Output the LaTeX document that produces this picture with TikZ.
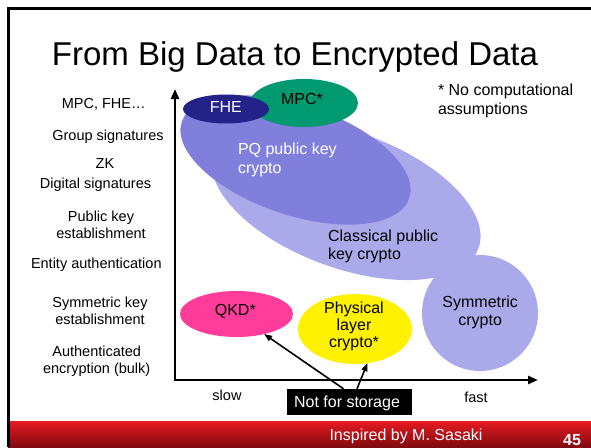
\documentclass[tikz,border=0pt]{standalone}
\usepackage{fontspec}
\setmainfont{Liberation Sans}
\usetikzlibrary{shapes.geometric,arrows.meta}

\definecolor{fhecol}{RGB}{34,34,136}
\definecolor{mpccol}{RGB}{0,153,112}
\definecolor{pqcol}{RGB}{128,128,220}
\definecolor{classcol}{RGB}{170,170,235}
\definecolor{qkdcol}{RGB}{255,60,153}
\definecolor{barlight}{RGB}{232,26,34}
\definecolor{bardark}{RGB}{128,10,16}

\tikzset{
  lbl/.style={inner sep=0pt, outer sep=0pt, align=center,
    font=\fontsize{14.5}{17}\selectfont},
  bigl/.style={inner sep=0pt, outer sep=0pt,
    font=\fontsize{16}{18.5}\selectfont},
  blob/.style={ellipse, inner sep=0pt, outer sep=0pt},
  axis/.style={line width=2.5pt, -{Triangle[length=10pt,width=8pt]}},
  pointer/.style={line width=1.6pt, -{Triangle[length=8pt,width=6pt]}}
}

\begin{document}
\begin{tikzpicture}[x=1pt,y=-1pt]
\useasboundingbox (0,0) rectangle (591,447);
\fill[white] (0,0) rectangle (591,447);

% footer band
\shade[top color=barlight, middle color=barlight!85!bardark, bottom color=bardark]
  (8,421) rectangle (591,447);
\node[bigl, white, anchor=base] (credit) at (406,440.7) {Inspired by M. Sasaki};
\node[bigl, white, anchor=base, font=\fontsize{16}{18}\selectfont\bfseries] (pageno) at (572,445) {45};

% slide frame
\draw[line width=2.5pt] (8.5,447) -- (8.5,8.5) -- (591,8.5);

% title
\node[inner sep=0pt, anchor=base, font=\fontsize{33}{38}\selectfont] (title) at (295,65)
  {From Big Data to Encrypted Data};

% row labels
\node[lbl, anchor=base] (r1) at (103.7,108) {MPC, FHE…};
\node[lbl, anchor=base] (r2) at (108,140) {Group signatures};
\node[lbl, anchor=base] (r3) at (105,168) {ZK};
\node[lbl, anchor=base] (r4) at (95.5,188) {Digital signatures};
\node[lbl] (r5) at (101,225.2) {Public key\\establishment};
\node[lbl, anchor=base] (r6) at (96.3,268) {Entity authentication};
\node[lbl] (r7) at (100,311.2) {Symmetric key\\establishment};
\node[lbl] (r8) at (96.7,360.8) {Authenticated\\encryption (bulk)};

% footnote
\node[bigl, align=left, anchor=west] (note) at (438,101) {* No computational\\assumptions};

% regions
\fill[classcol, rotate around={-20:(346,200)}] (346,200) ellipse [x radius=141, y radius=68];
\node[blob, fill=classcol, minimum width=116pt, minimum height=116pt] (sym) at (480,313) {};
\fill[pqcol, rotate around={-18.6:(295.5,160)}] (295.5,160) ellipse [x radius=120, y radius=55];
\node[blob, fill=mpccol, minimum width=108pt, minimum height=48pt] (mpc) at (304,103) {};
\node[blob, fill=fhecol, minimum width=86pt, minimum height=29pt] (fhe) at (226,109) {};
\node[blob, fill=qkdcol, minimum width=113pt, minimum height=46pt] (qkd) at (236.5,314) {};
\node[blob, fill=yellow, minimum width=114pt, minimum height=70pt] (phys) at (355,329) {};

% region labels
\node[bigl, white, anchor=base] (fhet) at (225.8,112.7) {FHE};
\node[bigl, anchor=base] (mpct) at (302,104.3) {MPC*};
\node[bigl, white, align=left, anchor=west] (pqt) at (238,160) {PQ public key\\crypto};
\node[bigl, align=left, anchor=west] (classt) at (328,246.5) {Classical public\\key crypto};
\node[bigl, align=center] (symt) at (480.2,312.2) {Symmetric\\crypto};
\node[bigl, anchor=base] (qkdt) at (235.3,315) {QKD*};
\node[bigl, align=center, font=\fontsize{16}{17}\selectfont] (physt) at (354,326.2) {Physical\\layer\\crypto*};

% axes
\coordinate (origin) at (175,380);
\coordinate (ytip) at (175,89);
\coordinate (xtip) at (538,380);
\draw[axis] ([yshift=1.25pt]origin) -- (ytip);
\draw[axis] ([xshift=-1.25pt]origin) -- (xtip);

\node[lbl, anchor=base] (slow) at (227,400) {slow};
\node[lbl, anchor=base] (fast) at (476,402.7) {fast};

% storage remark
\node[fill=black, minimum width=125pt, minimum height=26pt, inner sep=0pt] (nfs) at (349.5,402) {};
\node[bigl, white, anchor=base] (nfst) at (347,407.3) {Not for storage};
\draw[pointer] ([xshift=-6pt]nfs.north) -- (qkd.-36);
\draw[pointer] ([xshift=7.5pt]nfs.north) -- (phys.-70);
\end{tikzpicture}
\end{document}
